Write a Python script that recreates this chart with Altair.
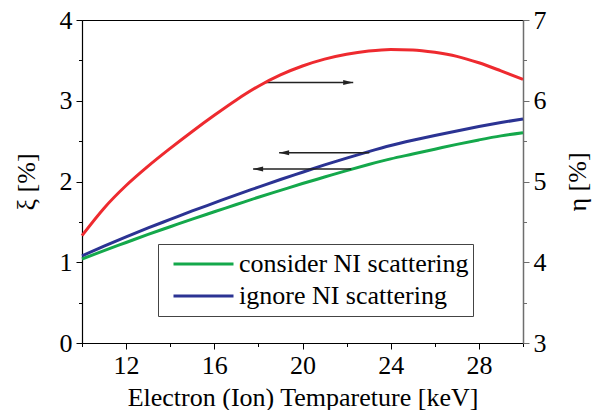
import altair as alt
import pandas as pd

# ---------------- data ----------------
temps = list(range(10, 31))
xi_consider = [1.04, 1.145, 1.245, 1.345, 1.44, 1.535, 1.625, 1.715, 1.805, 1.89, 1.975,
               2.055, 2.135, 2.21, 2.28, 2.34, 2.40, 2.46, 2.515, 2.565, 2.605]
xi_ignore = [1.08, 1.20, 1.315, 1.425, 1.53, 1.635, 1.735, 1.835, 1.93, 2.025, 2.115,
             2.205, 2.29, 2.37, 2.445, 2.51, 2.57, 2.625, 2.68, 2.73, 2.775]
eta_values = [4.33, 4.67, 4.95, 5.19, 5.41, 5.62, 5.82, 6.01, 6.18, 6.32, 6.43,
              6.515, 6.575, 6.615, 6.635, 6.63, 6.60, 6.55, 6.47, 6.37, 6.265]
series_names = ["consider NI scattering", "ignore NI scattering"]

arrow_y = [3.226, 2.357, 2.155]
arrow_from = [18.31, 23.03, 22.21]
arrow_to = [22.30, 18.94, 17.76]

x_ticks = list(range(10, 31, 2))
xi_ticks = [i * 0.5 for i in range(9)]
eta_ticks = [3 + i * 0.5 for i in range(9)]

# ---------------- styling ----------------
FONT = "Liberation Serif, Times New Roman, serif"
FS = 26
GREEN = "#14A84B"
BLUE = "#2B3393"
RED = "#EE2A2F"
ARROW = "#222222"

lines_df = pd.DataFrame({
    "T": temps * 2,
    "xi": xi_consider + xi_ignore,
    "series": [series_names[0]] * len(temps) + [series_names[1]] * len(temps),
})
red_df = pd.DataFrame({"T": temps, "eta": eta_values})
arrow_df = pd.DataFrame({"ay": arrow_y, "x0": arrow_from, "x1": arrow_to})
arrow_df["dir"] = ["right" if b > a else "left" for a, b in zip(arrow_from, arrow_to)]

x_scale = alt.Scale(domain=[10, 30], nice=False, zero=False)
xi_scale = alt.Scale(domain=[0, 4], nice=False, zero=False)
eta_scale = alt.Scale(domain=[3, 7], nice=False, zero=False)

major_int = "datum.value % 1 == 0"

x_axis = alt.Axis(
    values=x_ticks,
    labelExpr="(datum.value - 12) % 4 == 0 ? format(datum.value, 'd') : ''",
    tickSize={"condition": {"test": "(datum.value - 12) % 4 == 0", "value": 6}, "value": 3.5},
    labelPadding=3,
    labelOverlap=False,
    title="Electron (Ion) Tempareture [keV]",
    titlePadding=6,
)
xi_axis = alt.Axis(
    orient="left",
    values=xi_ticks,
    labelExpr=major_int + " ? format(datum.value, 'd') : ''",
    tickSize={"condition": {"test": major_int, "value": 6}, "value": 3.5},
    labelPadding=4,
    labelOverlap=False,
    title="ξ [%]",
    titlePadding=20,
)
eta_axis = alt.Axis(
    orient="right",
    values=eta_ticks,
    labelExpr=major_int + " ? format(datum.value, 'd') : ''",
    tickSize={"condition": {"test": major_int, "value": 6}, "value": 3.5},
    labelPadding=4,
    labelOverlap=False,
    domainColor="#6E6E6E",
    tickColor="#6E6E6E",
    domainWidth=1.5,
    title="η [%]",
    titleAngle=270,
    titlePadding=44,
)

lines = alt.Chart(lines_df).mark_line(strokeWidth=3, interpolate="monotone").encode(
    x=alt.X("T:Q", scale=x_scale, axis=x_axis),
    y=alt.Y("xi:Q", scale=xi_scale, axis=xi_axis),
    color=alt.Color(
        "series:N",
        scale=alt.Scale(domain=series_names, range=[GREEN, BLUE]),
        legend=alt.Legend(
            title=None, orient="none", legendX=76, legendY=224,
            symbolType="stroke", symbolSize=3600, symbolStrokeWidth=3,
            clipHeight=32, padding=4, rowPadding=0,
            symbolOffset=10, labelOffset=4,
            labelFont=FONT, labelFontSize=FS, labelColor="black", labelLimit=500,
            strokeColor="#444444", fillColor="white",
        ),
    ),
)

rules = alt.Chart(arrow_df).mark_rule(color=ARROW, strokeWidth=1.5).encode(
    x=alt.X("x0:Q", scale=x_scale, axis=x_axis),
    x2="x1:Q",
    y=alt.Y("ay:Q", scale=xi_scale, axis=xi_axis),
)

head_right = "M-2,-0.5L0,0L-2,0.5Z"
head_left = "M2,-0.5L0,0L2,0.5Z"
heads = alt.Chart(arrow_df).mark_point(filled=True, opacity=1, color=ARROW, size=100, strokeWidth=0).encode(
    x=alt.X("x1:Q", scale=x_scale, axis=x_axis),
    y=alt.Y("ay:Q", scale=xi_scale, axis=xi_axis),
    shape=alt.Shape("dir:N", scale=alt.Scale(domain=["right", "left"], range=[head_right, head_left]), legend=None),
)

red = alt.Chart(red_df).mark_line(strokeWidth=3, color=RED, interpolate="monotone").encode(
    x=alt.X("T:Q", scale=x_scale, axis=x_axis),
    y=alt.Y("eta:Q", scale=eta_scale, axis=eta_axis),
)

left = alt.layer(lines, rules, heads)
chart = alt.layer(left, red).resolve_scale(y="independent").properties(
    width=441,
    height=323,
    autosize=alt.AutoSizeParams(type="none"),
    padding={"left": 82, "top": 20, "right": 73, "bottom": 67},
).configure_view(
    stroke="black", strokeWidth=1
).configure_axis(
    labelFont=FONT, titleFont=FONT, labelFontSize=FS, titleFontSize=FS,
    titleFontWeight="normal", labelColor="black", titleColor="black",
    domainColor="black", tickColor="black", grid=False, domainWidth=1.2,
)

chart.save("out.html", embed_options={"renderer": "svg", "actions": False})
